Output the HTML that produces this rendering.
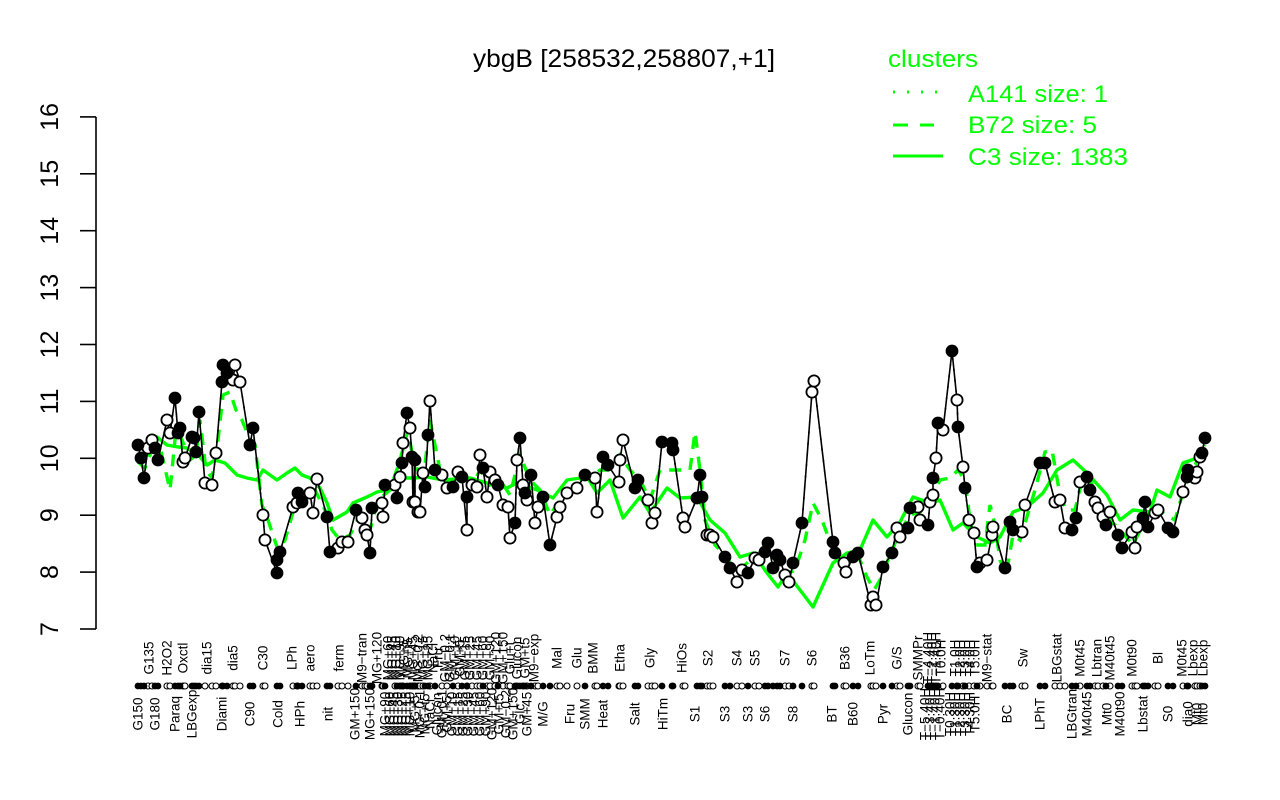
<!DOCTYPE html>
<html><head><meta charset="utf-8"><style>
html,body{margin:0;padding:0;background:#fff;}
svg{display:block;font-family:"Liberation Sans",Arial,sans-serif;}
</style></head><body>
<svg width="1280" height="800" viewBox="0 0 1280 800" xmlns="http://www.w3.org/2000/svg">
<defs>
<marker id="mf" markerUnits="userSpaceOnUse" markerWidth="16" markerHeight="16" viewBox="-8 -8 16 16" refX="0" refY="0" overflow="visible"><circle r="5.8" fill="#000" stroke="#000" stroke-width="1.2"/></marker>
<marker id="mo" markerUnits="userSpaceOnUse" markerWidth="16" markerHeight="16" viewBox="-8 -8 16 16" refX="0" refY="0" overflow="visible"><circle r="5.6" fill="#fff" stroke="#000" stroke-width="1.8"/></marker>
<marker id="sf" markerUnits="userSpaceOnUse" markerWidth="10" markerHeight="10" viewBox="-5 -5 10 10" refX="0" refY="0" overflow="visible"><circle r="3.4" fill="#000"/></marker>
<marker id="so" markerUnits="userSpaceOnUse" markerWidth="10" markerHeight="10" viewBox="-5 -5 10 10" refX="0" refY="0" overflow="visible"><circle r="3.0" fill="#fff" stroke="#000" stroke-width="1.1"/></marker>
</defs>
<rect width="1280" height="800" fill="#fff"/>

<!-- title -->
<text x="624" y="67" font-size="25" text-anchor="middle" textLength="302" lengthAdjust="spacingAndGlyphs">ybgB [258532,258807,+1]</text>

<!-- y axis -->
<g stroke="#000" stroke-width="1.6" fill="none">
<line x1="96" y1="116.9" x2="96" y2="629"/>
<line x1="80" y1="629" x2="96" y2="629"/>
<line x1="80" y1="572.1" x2="96" y2="572.1"/>
<line x1="80" y1="515.2" x2="96" y2="515.2"/>
<line x1="80" y1="458.3" x2="96" y2="458.3"/>
<line x1="80" y1="401.4" x2="96" y2="401.4"/>
<line x1="80" y1="344.5" x2="96" y2="344.5"/>
<line x1="80" y1="287.6" x2="96" y2="287.6"/>
<line x1="80" y1="230.7" x2="96" y2="230.7"/>
<line x1="80" y1="173.8" x2="96" y2="173.8"/>
<line x1="80" y1="116.9" x2="96" y2="116.9"/>
</g>
<g font-size="25" text-anchor="middle">
<text transform="translate(58,629) rotate(-90)">7</text>
<text transform="translate(58,572.1) rotate(-90)">8</text>
<text transform="translate(58,515.2) rotate(-90)">9</text>
<text transform="translate(58,458.3) rotate(-90)">10</text>
<text transform="translate(58,401.4) rotate(-90)">11</text>
<text transform="translate(58,344.5) rotate(-90)">12</text>
<text transform="translate(58,287.6) rotate(-90)">13</text>
<text transform="translate(58,230.7) rotate(-90)">14</text>
<text transform="translate(58,173.8) rotate(-90)">15</text>
<text transform="translate(58,116.9) rotate(-90)">16</text>
</g>

<!-- legend -->
<g fill="#00ff00" font-size="24">
<text x="888" y="67" textLength="90" lengthAdjust="spacingAndGlyphs">clusters</text>
<text x="968" y="102" textLength="140" lengthAdjust="spacingAndGlyphs">A141 size: 1</text>
<text x="968" y="133" textLength="129" lengthAdjust="spacingAndGlyphs">B72 size: 5</text>
<text x="968" y="165" textLength="160" lengthAdjust="spacingAndGlyphs">C3 size: 1383</text>
</g>
<g stroke="#00ff00" stroke-width="3" fill="none">
<line x1="893" y1="92" x2="940" y2="92" stroke-dasharray="2,12"/>
<line x1="893" y1="125" x2="934" y2="125" stroke-dasharray="15,12"/>
<line x1="893" y1="156" x2="943" y2="156"/>
</g>

<!-- C3 solid -->
<polyline fill="none" stroke="#00ff00" stroke-width="3.4" stroke-linejoin="round" points="138,462 150,452 157,437 167,445 178,447 187,448 200,457 207,465 215,460 225,463 237,475 247,478 257,480 263,470 277,480 287,473 295,468 302,475 310,478 320,488 327,503 333,520 347,512 353,503 367,497 377,492 387,490 397,482 403,478 413,478 427,477 443,480 470,478 487,483 507,488 517,483 537,490 553,498 567,480 587,477 597,493 610,480 623,518 640,497 650,513 667,488 680,498 697,497 710,520 725,533 740,557 753,553 767,573 778,587 787,573 800,590 813,607 833,563 847,553 860,550 873,520 887,537 900,522 913,497 930,503 940,500 953,530 963,523 977,537 990,543 1000,537 1013,512 1027,507 1043,493 1057,470 1073,460 1087,473 1107,495 1120,520 1133,510 1150,512 1157,490 1170,497 1183,463 1200,457"/>

<!-- B72 dashed -->
<polyline fill="none" stroke="#00ff00" stroke-width="3.4" stroke-dasharray="12,9" points="138,462 145,468 152,450 160,447 170,490 176,430 182,440 190,460 196,455 200,420 206,470 212,478 218,440 223,395 230,392 236,410 242,420 250,440 255,445 262,505 268,520 278,550 285,540 295,505 305,495 315,490 325,510 332,530 340,540 350,535 360,515 370,530 378,500 390,490 400,460 408,430 415,470 425,465 430,420 440,470 450,485 460,470 470,490 480,470 490,485 500,480 510,495 520,455 530,480 540,490 550,515 560,500 570,495 580,480 590,478 600,470 610,470 620,455 630,470 640,480 650,500 660,470 670,470 680,470 690,470 695,432 700,470 705,520 715,545 725,555 735,570 745,565 755,555 765,550 775,560 785,575 795,570 805,540 813,503 822,520 833,550 845,565 858,555 866,575 874,590 880,580 890,555 900,532 910,515 920,512 930,500 940,480 950,478 958,470 965,480 970,520 975,545 985,545 990,505 995,525 1000,560 1006,575 1013,535 1020,540 1026,520 1035,490 1045,452 1052,450 1060,495 1066,510 1075,510 1082,480 1090,480 1100,505 1110,520 1120,530 1133,545 1145,520 1155,505 1165,515 1175,520 1185,485 1195,465 1205,445"/>

<!-- black gene line -->
<polyline id="gl" fill="none" stroke="#000" stroke-width="1.6" stroke-linejoin="round" points="138,445 141,458 144,478 148,448 152,440 155,448 158,460 167,420 170,433 175,398 178,433 180,428 183,462 185,458 192,437 194,438 196,452 199,412 205,483 212,485 216,453 222,382 223,365 227,373 233,380 235,365 240,382 250,445 253,428 263,515 265,540 277,573 277,560 280,552 293,507 297,503 298,493 302,502 310,493 313,513 317,479 327,517 330,552 338,548 342,542 348,542 356,510 362,518 365,530 367,535 370,553 372,508 382,503 383,517 385,485 395,485 397,498 400,477 402,463 403,443 407,413 410,428 412,457 413,502 415,460 415,502 418,512 420,512 423,473 425,487 428,435 430,401 435,470 442,475 447,488 453,487 458,472 462,477 467,530 467,497 472,485 477,487 480,455 483,468 487,497 490,472 495,480 498,485 503,505 508,507 510,538 515,523 517,460 520,438 523,485 525,493 527,500 531,475 535,523 538,507 543,497 550,545 557,517 560,507 567,493 577,488 585,475 595,478 597,512 603,457 608,465 619,482 620,460 623,440 635,488 638,480 648,500 652,523 655,513 662,442 672,443 673,450 683,518 685,527 697,498 700,475 702,497 707,535 710,535 713,537 725,557 730,568 737,582 742,570 748,573 755,558 759,560 765,552 768,543 773,568 777,555 780,560 785,575 789,582 793,563 802,523 812,392 814,381 833,542 835,553 844,563 846,572 853,557 858,553 871,605 873,597 876,605 883,567 892,553 897,528 900,537 908,528 910,508 918,507 920,520 928,525 930,502 933,495 933,478 936,458 938,423 943,430 952,351 957,400 958,427 963,467 965,488 969,520 974,533 977,567 980,563 987,560 992,535 993,527 1005,568 1010,522 1013,530 1022,532 1025,505 1040,463 1045,463 1055,502 1060,500 1065,528 1072,530 1076,518 1080,482 1087,477 1090,490 1095,502 1098,508 1103,517 1106,525 1110,512 1118,535 1122,548 1132,532 1135,548 1137,527 1143,518 1145,502 1148,527 1155,513 1158,510 1168,528 1173,532 1183,492 1187,477 1188,470 1195,478 1197,472 1200,457 1202,453 1205,438"/>
<use href="#gl" stroke="#00ff00" stroke-width="3" stroke-dasharray="2,9"/>

<!-- points: open -->
<polyline fill="none" stroke="none" marker-start="url(#mo)" marker-mid="url(#mo)" marker-end="url(#mo)" points="148,448 152,440 167,420 170,433 183,462 185,458 205,483 212,485 216,453 233,380 235,365 240,382 263,515 265,540 293,507 297,503 310,493 313,513 317,479 338,548 342,542 348,542 362,518 365,530 367,535 382,503 383,517 395,485 400,477 403,443 410,428 413,502 415,502 418,512 420,512 423,473 430,401 442,475 447,488 458,472 467,530 472,485 477,487 480,455 487,497 490,472 495,480 503,505 508,507 510,538 517,460 523,485 527,500 535,523 538,507 557,517 560,507 567,493 577,488 595,478 597,512 619,482 620,460 623,440 648,500 652,523 655,513 683,518 685,527 707,535 710,535 713,537 737,582 742,570 755,558 759,560 785,575 789,582 812,392 814,381 844,563 846,572 871,605 873,597 876,605 897,528 900,537 918,507 920,520 930,502 933,495 936,458 943,430 957,400 963,467 969,520 974,533 980,563 987,560 992,535 993,527 1022,532 1025,505 1055,502 1060,500 1065,528 1080,482 1095,502 1098,508 1103,517 1110,512 1132,532 1135,548 1137,527 1155,513 1158,510 1183,492 1195,478 1197,472 1200,457"/>
<!-- points: filled -->
<polyline fill="none" stroke="none" marker-start="url(#mf)" marker-mid="url(#mf)" marker-end="url(#mf)" points="138,445 141,458 144,478 155,448 158,460 175,398 178,433 180,428 192,437 194,438 196,452 199,412 222,382 223,365 227,373 250,445 253,428 277,573 277,560 280,552 298,493 302,502 327,517 330,552 356,510 370,553 372,508 385,485 397,498 402,463 407,413 412,457 415,460 425,487 428,435 435,470 453,487 462,477 467,497 483,468 498,485 515,523 520,438 525,493 531,475 543,497 550,545 585,475 603,457 608,465 635,488 638,480 662,442 672,443 673,450 697,498 700,475 702,497 725,557 730,568 748,573 765,552 768,543 773,568 777,555 780,560 793,563 802,523 833,542 835,553 853,557 858,553 883,567 892,553 908,528 910,508 928,525 933,478 938,423 952,351 958,427 965,488 977,567 1005,568 1010,522 1013,530 1040,463 1045,463 1072,530 1076,518 1087,477 1090,490 1106,525 1118,535 1122,548 1143,518 1145,502 1148,527 1168,528 1173,532 1187,477 1188,470 1202,453 1205,438"/>

<!-- axis row markers -->
<polyline fill="none" stroke="none" marker-start="url(#so)" marker-mid="url(#so)" marker-end="url(#so)" points="148,686 152,686 167,686 170,686 183,686 185,686 205,686 212,686 216,686 233,686 235,686 240,686 263,686 265,686 293,686 297,686 310,686 313,686 317,686 338,686 342,686 348,686 362,686 365,686 367,686 382,686 383,686 395,686 400,686 403,686 410,686 413,686 415,686 418,686 420,686 423,686 430,686 442,686 447,686 458,686 467,686 472,686 477,686 480,686 487,686 490,686 495,686 503,686 508,686 510,686 517,686 523,686 527,686 535,686 538,686 557,686 560,686 567,686 577,686 595,686 597,686 619,686 620,686 623,686 648,686 652,686 655,686 683,686 685,686 707,686 710,686 713,686 737,686 742,686 755,686 759,686 785,686 789,686 812,686 814,686 844,686 846,686 871,686 873,686 876,686 897,686 900,686 918,686 920,686 930,686 933,686 936,686 943,686 957,686 963,686 969,686 974,686 980,686 987,686 992,686 993,686 1022,686 1025,686 1055,686 1060,686 1065,686 1080,686 1095,686 1098,686 1103,686 1110,686 1132,686 1135,686 1137,686 1155,686 1158,686 1183,686 1195,686 1197,686 1200,686"/>
<polyline fill="none" stroke="none" marker-start="url(#sf)" marker-mid="url(#sf)" marker-end="url(#sf)" points="138,686 141,686 144,686 155,686 158,686 175,686 178,686 180,686 192,686 194,686 196,686 199,686 222,686 223,686 227,686 250,686 253,686 277,686 280,686 298,686 302,686 327,686 330,686 356,686 370,686 372,686 385,686 397,686 402,686 407,686 412,686 415,686 425,686 428,686 435,686 453,686 462,686 467,686 483,686 498,686 515,686 520,686 525,686 531,686 543,686 550,686 585,686 603,686 608,686 635,686 638,686 662,686 672,686 673,686 697,686 700,686 702,686 725,686 730,686 748,686 765,686 768,686 773,686 777,686 780,686 793,686 802,686 833,686 835,686 853,686 858,686 883,686 892,686 908,686 910,686 928,686 933,686 938,686 952,686 958,686 965,686 977,686 1005,686 1010,686 1013,686 1040,686 1045,686 1072,686 1076,686 1087,686 1090,686 1106,686 1118,686 1122,686 1143,686 1145,686 1148,686 1168,686 1173,686 1187,686 1188,686 1202,686 1205,686"/>

<!-- x labels above -->
<g font-size="13.5" text-anchor="middle">
<text transform="translate(149,658) rotate(-90)" dy="0.35em">G135</text>
<text transform="translate(167,658) rotate(-90)" dy="0.35em">H2O2</text>
<text transform="translate(183,658) rotate(-90)" dy="0.35em">Oxctl</text>
<text transform="translate(207,658) rotate(-90)" dy="0.35em">dia15</text>
<text transform="translate(233,658) rotate(-90)" dy="0.35em">dia5</text>
<text transform="translate(263,658) rotate(-90)" dy="0.35em">C30</text>
<text transform="translate(292,658) rotate(-90)" dy="0.35em">LPh</text>
<text transform="translate(310,658) rotate(-90)" dy="0.35em">aero</text>
<text transform="translate(339,658) rotate(-90)" dy="0.35em">ferm</text>
<text transform="translate(362,658) rotate(-90)" dy="0.35em">M9−tran</text>
<text transform="translate(377,658) rotate(-90)" dy="0.35em">MG+120</text>
<text transform="translate(388,658) rotate(-90)" dy="0.35em">MG+60</text>
<text transform="translate(392,658) rotate(-90)" dy="0.35em">MG+45</text>
<text transform="translate(396,658) rotate(-90)" dy="0.35em">MG+10</text>
<text transform="translate(400,658) rotate(-90)" dy="0.35em">MG+90</text>
<text transform="translate(404,658) rotate(-90)" dy="0.35em">MG+5</text>
<text transform="translate(408,658) rotate(-90)" dy="0.35em">MG+t5</text>
<text transform="translate(413,658) rotate(-90)" dy="0.35em">MG+45</text>
<text transform="translate(418,658) rotate(-90)" dy="0.35em">MG−0.2</text>
<text transform="translate(423,658) rotate(-90)" dy="0.35em">MG+15</text>
<text transform="translate(428,658) rotate(-90)" dy="0.35em">MG+25</text>
<text transform="translate(433,658) rotate(-90)" dy="0.35em">NaCl</text>
<text transform="translate(438,658) rotate(-90)" dy="0.35em">Fru</text>
<text transform="translate(445,658) rotate(-90)" dy="0.35em">GM−0.2</text>
<text transform="translate(450,658) rotate(-90)" dy="0.35em">GM−0.1</text>
<text transform="translate(455,658) rotate(-90)" dy="0.35em">GM+10</text>
<text transform="translate(460,658) rotate(-90)" dy="0.35em">GM+5</text>
<text transform="translate(465,658) rotate(-90)" dy="0.35em">GM+15</text>
<text transform="translate(470,658) rotate(-90)" dy="0.35em">GM+25</text>
<text transform="translate(477,658) rotate(-90)" dy="0.35em">GM+45</text>
<text transform="translate(483,658) rotate(-90)" dy="0.35em">GM+60</text>
<text transform="translate(490,658) rotate(-90)" dy="0.35em">GM+90</text>
<text transform="translate(496,658) rotate(-90)" dy="0.35em">GM+120</text>
<text transform="translate(503,658) rotate(-90)" dy="0.35em">GM+150</text>
<text transform="translate(510,658) rotate(-90)" dy="0.35em">Glu+t</text>
<text transform="translate(517,658) rotate(-90)" dy="0.35em">Glucon</text>
<text transform="translate(525,658) rotate(-90)" dy="0.35em">GM+t5</text>
<text transform="translate(534,658) rotate(-90)" dy="0.35em">M9−exp</text>
<text transform="translate(557,658) rotate(-90)" dy="0.35em">Mal</text>
<text transform="translate(577,658) rotate(-90)" dy="0.35em">Glu</text>
<text transform="translate(593,658) rotate(-90)" dy="0.35em">BMM</text>
<text transform="translate(620,658) rotate(-90)" dy="0.35em">Etha</text>
<text transform="translate(650,658) rotate(-90)" dy="0.35em">Gly</text>
<text transform="translate(682,658) rotate(-90)" dy="0.35em">HiOs</text>
<text transform="translate(708,658) rotate(-90)" dy="0.35em">S2</text>
<text transform="translate(737,658) rotate(-90)" dy="0.35em">S4</text>
<text transform="translate(755,658) rotate(-90)" dy="0.35em">S5</text>
<text transform="translate(785,658) rotate(-90)" dy="0.35em">S7</text>
<text transform="translate(812,658) rotate(-90)" dy="0.35em">S6</text>
<text transform="translate(845,658) rotate(-90)" dy="0.35em">B36</text>
<text transform="translate(870,658) rotate(-90)" dy="0.35em">LoTm</text>
<text transform="translate(897,658) rotate(-90)" dy="0.35em">G/S</text>
<text transform="translate(918,658) rotate(-90)" dy="0.35em">SMMPr</text>
<text transform="translate(928,658) rotate(-90)" dy="0.35em">T−4.40H</text>
<text transform="translate(932,658) rotate(-90)" dy="0.35em">T−2.40H</text>
<text transform="translate(936,658) rotate(-90)" dy="0.35em">T−1.40H</text>
<text transform="translate(941,658) rotate(-90)" dy="0.35em">T0.0H</text>
<text transform="translate(955,658) rotate(-90)" dy="0.35em">T1.0H</text>
<text transform="translate(960,658) rotate(-90)" dy="0.35em">T2.0H</text>
<text transform="translate(965,658) rotate(-90)" dy="0.35em">T3.0H</text>
<text transform="translate(970,658) rotate(-90)" dy="0.35em">T4.0H</text>
<text transform="translate(975,658) rotate(-90)" dy="0.35em">T5.0H</text>
<text transform="translate(987,658) rotate(-90)" dy="0.35em">M9−stat</text>
<text transform="translate(1023,658) rotate(-90)" dy="0.35em">Sw</text>
<text transform="translate(1057,658) rotate(-90)" dy="0.35em">LBGstat</text>
<text transform="translate(1080,658) rotate(-90)" dy="0.35em">M0t45</text>
<text transform="translate(1097,658) rotate(-90)" dy="0.35em">Lbtran</text>
<text transform="translate(1110,658) rotate(-90)" dy="0.35em">M40t45</text>
<text transform="translate(1132,658) rotate(-90)" dy="0.35em">M0t90</text>
<text transform="translate(1158,658) rotate(-90)" dy="0.35em">Bl</text>
<text transform="translate(1182,658) rotate(-90)" dy="0.35em">M0t45</text>
<text transform="translate(1193,658) rotate(-90)" dy="0.35em">Lbexp</text>
<text transform="translate(1203,658) rotate(-90)" dy="0.35em">Lbexp</text>
</g>

<!-- x labels below -->
<g font-size="13.5" text-anchor="middle">
<text transform="translate(138,714) rotate(-90)" dy="0.35em">G150</text>
<text transform="translate(155,714) rotate(-90)" dy="0.35em">G180</text>
<text transform="translate(175,714) rotate(-90)" dy="0.35em">Paraq</text>
<text transform="translate(192,714) rotate(-90)" dy="0.35em">LBGexp</text>
<text transform="translate(222,714) rotate(-90)" dy="0.35em">Diami</text>
<text transform="translate(250,714) rotate(-90)" dy="0.35em">C90</text>
<text transform="translate(278,714) rotate(-90)" dy="0.35em">Cold</text>
<text transform="translate(300,714) rotate(-90)" dy="0.35em">HPh</text>
<text transform="translate(328,714) rotate(-90)" dy="0.35em">nit</text>
<text transform="translate(355,714) rotate(-90)" dy="0.35em">GM+150</text>
<text transform="translate(370,714) rotate(-90)" dy="0.35em">MG+150</text>
<text transform="translate(385,714) rotate(-90)" dy="0.35em">MG+90</text>
<text transform="translate(390,714) rotate(-90)" dy="0.35em">MG+60</text>
<text transform="translate(394,714) rotate(-90)" dy="0.35em">MG+45</text>
<text transform="translate(398,714) rotate(-90)" dy="0.35em">MG+30</text>
<text transform="translate(402,714) rotate(-90)" dy="0.35em">MG+25</text>
<text transform="translate(406,714) rotate(-90)" dy="0.35em">MG+15</text>
<text transform="translate(410,714) rotate(-90)" dy="0.35em">MG+10</text>
<text transform="translate(415,714) rotate(-90)" dy="0.35em">MG+5</text>
<text transform="translate(420,714) rotate(-90)" dy="0.35em">MG−0.1</text>
<text transform="translate(425,714) rotate(-90)" dy="0.35em">MG+t5</text>
<text transform="translate(430,714) rotate(-90)" dy="0.35em">NaCl</text>
<text transform="translate(437,714) rotate(-90)" dy="0.35em">Glucon</text>
<text transform="translate(442,714) rotate(-90)" dy="0.35em">GM−0.1</text>
<text transform="translate(447,714) rotate(-90)" dy="0.35em">GM+5</text>
<text transform="translate(452,714) rotate(-90)" dy="0.35em">GM+10</text>
<text transform="translate(458,714) rotate(-90)" dy="0.35em">GM+15</text>
<text transform="translate(463,714) rotate(-90)" dy="0.35em">GM+25</text>
<text transform="translate(468,714) rotate(-90)" dy="0.35em">GM+30</text>
<text transform="translate(474,714) rotate(-90)" dy="0.35em">GM+45</text>
<text transform="translate(480,714) rotate(-90)" dy="0.35em">GM+60</text>
<text transform="translate(486,714) rotate(-90)" dy="0.35em">GM+90</text>
<text transform="translate(492,714) rotate(-90)" dy="0.35em">GM+120</text>
<text transform="translate(499,714) rotate(-90)" dy="0.35em">GM+t5</text>
<text transform="translate(506,714) rotate(-90)" dy="0.35em">GM−0.2</text>
<text transform="translate(513,714) rotate(-90)" dy="0.35em">GM+150</text>
<text transform="translate(520,714) rotate(-90)" dy="0.35em">Glc</text>
<text transform="translate(527,714) rotate(-90)" dy="0.35em">GM+45</text>
<text transform="translate(543,714) rotate(-90)" dy="0.35em">M/G</text>
<text transform="translate(570,714) rotate(-90)" dy="0.35em">Fru</text>
<text transform="translate(585,714) rotate(-90)" dy="0.35em">SMM</text>
<text transform="translate(603,714) rotate(-90)" dy="0.35em">Heat</text>
<text transform="translate(635,714) rotate(-90)" dy="0.35em">Salt</text>
<text transform="translate(663,714) rotate(-90)" dy="0.35em">HiTm</text>
<text transform="translate(695,714) rotate(-90)" dy="0.35em">S1</text>
<text transform="translate(725,714) rotate(-90)" dy="0.35em">S3</text>
<text transform="translate(748,714) rotate(-90)" dy="0.35em">S3</text>
<text transform="translate(765,714) rotate(-90)" dy="0.35em">S6</text>
<text transform="translate(793,714) rotate(-90)" dy="0.35em">S8</text>
<text transform="translate(832,714) rotate(-90)" dy="0.35em">BT</text>
<text transform="translate(853,714) rotate(-90)" dy="0.35em">B60</text>
<text transform="translate(883,714) rotate(-90)" dy="0.35em">Pyr</text>
<text transform="translate(908,714) rotate(-90)" dy="0.35em">Glucon</text>
<text transform="translate(925,714) rotate(-90)" dy="0.35em">T−5.40H</text>
<text transform="translate(930,714) rotate(-90)" dy="0.35em">T−3.40H</text>
<text transform="translate(935,714) rotate(-90)" dy="0.35em">T−1.40H</text>
<text transform="translate(940,714) rotate(-90)" dy="0.35em">T−0.40H</text>
<text transform="translate(950,714) rotate(-90)" dy="0.35em">T0.30H</text>
<text transform="translate(955,714) rotate(-90)" dy="0.35em">T1.30H</text>
<text transform="translate(960,714) rotate(-90)" dy="0.35em">T2.30H</text>
<text transform="translate(965,714) rotate(-90)" dy="0.35em">T3.30H</text>
<text transform="translate(970,714) rotate(-90)" dy="0.35em">T4.30H</text>
<text transform="translate(975,714) rotate(-90)" dy="0.35em">T5.0H</text>
<text transform="translate(1007,714) rotate(-90)" dy="0.35em">BC</text>
<text transform="translate(1040,714) rotate(-90)" dy="0.35em">LPhT</text>
<text transform="translate(1072,714) rotate(-90)" dy="0.35em">LBGtran</text>
<text transform="translate(1087,714) rotate(-90)" dy="0.35em">M40t45</text>
<text transform="translate(1107,714) rotate(-90)" dy="0.35em">Mt0</text>
<text transform="translate(1120,714) rotate(-90)" dy="0.35em">M40t90</text>
<text transform="translate(1143,714) rotate(-90)" dy="0.35em">Lbstat</text>
<text transform="translate(1168,714) rotate(-90)" dy="0.35em">S0</text>
<text transform="translate(1188,714) rotate(-90)" dy="0.35em">dia0</text>
<text transform="translate(1197,714) rotate(-90)" dy="0.35em">Mt0</text>
<text transform="translate(1203,714) rotate(-90)" dy="0.35em">Mt0</text>
</g>
</svg>
</body></html>
